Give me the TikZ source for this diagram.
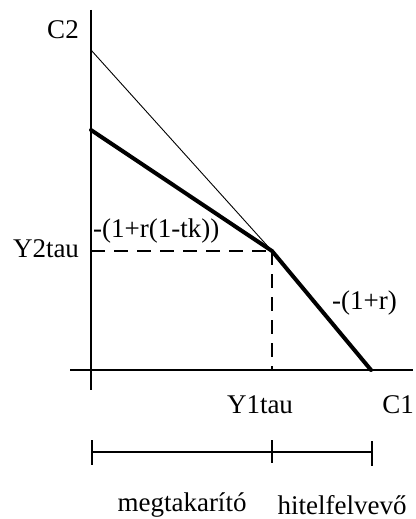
\documentclass[tikz,border=0pt]{standalone}
\usepackage{fontspec}
\setmainfont{Liberation Serif}
\begin{document}
\begin{tikzpicture}[x=1pt,y=-1pt,
  lbl/.style={inner sep=0pt,font=\fontsize{27}{30}\selectfont},
  axis/.style={line width=1.4pt},
  thinln/.style={line width=0.9pt},
  thickln/.style={line width=4pt,line cap=round,line join=round},
  dsh/.style={line width=1.2pt,dash pattern=on 14pt off 9pt}]
\useasboundingbox (0,0) rectangle (415,519);
% coordinates
\coordinate (ytop) at (91,10);
\coordinate (ybot) at (91,390);
\coordinate (xl) at (70,370);
\coordinate (xr) at (413,370);
\coordinate (A) at (91,50);
\coordinate (B) at (91,130);
\coordinate (K) at (272,251);
\coordinate (E) at (371,370);
\coordinate (Ky) at (91,251);
\coordinate (Kx) at (272,370);
% axes
\draw[axis] (ytop) -- (ybot);
\draw[axis] (xl) -- (xr);
% lines
\draw[thinln] (A) -- (K);
\draw[dsh] (Ky) -- (K);
\draw[dsh] (K) -- (Kx);
\draw[thickln] (B) -- (K) -- (E);
% labels
\node[lbl] (c2) at (63,30) {C2};
\node[lbl] (y2) at (46,249) {Y2tau};
\node[lbl,anchor=west] (s1) at (93,231) {-(1+r(1-tk))};
\node[lbl,anchor=west] (s2) at (332,303) {-(1+r)};
\node[lbl] (y1) at (260,405) {Y1tau};
\node[lbl] (c1) at (398,405) {C1};
% bar
\coordinate (b0) at (92,452);
\coordinate (b1) at (272,452);
\coordinate (b2) at (372,452);
\draw[axis] (b0) -- (b2);
\draw[axis] (92,440) -- (92,465);
\draw[axis] (272,440) -- (272,463);
\draw[axis] (372,441) -- (372,466);
\node[lbl] (m) at (182,505) {megtakarító};
\node[lbl] (h) at (342,505) {hitelfelvevő};
\end{tikzpicture}
\end{document}
